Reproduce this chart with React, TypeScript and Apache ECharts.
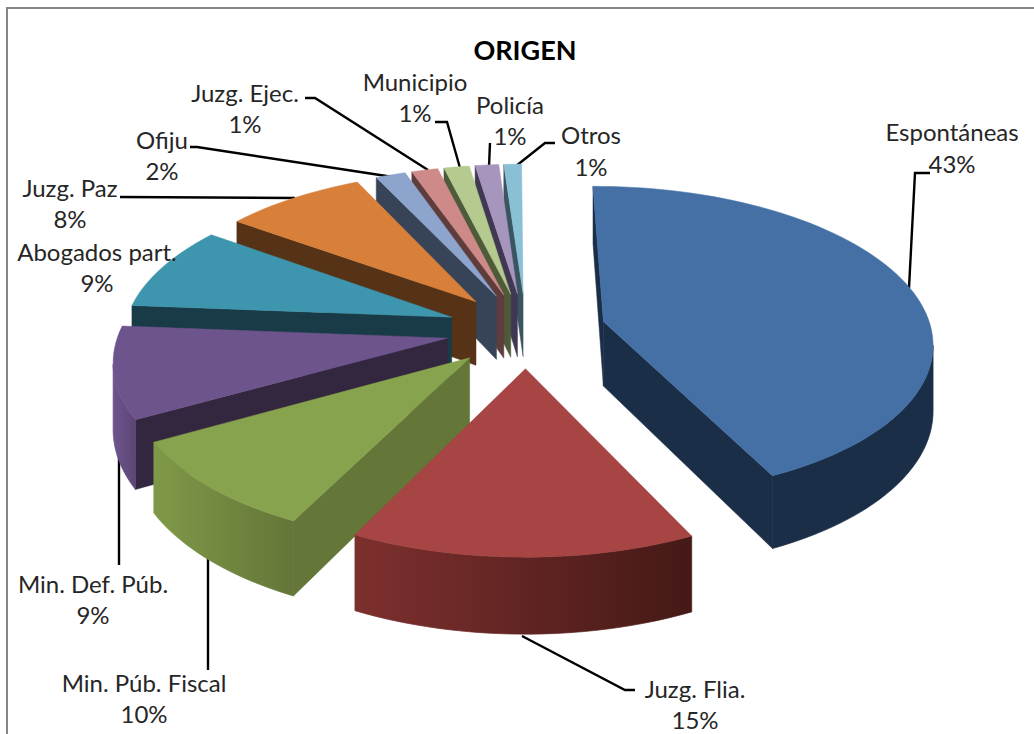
import React, { useEffect, useRef } from "react";
import * as echarts from "echarts";

const categories = ["Espontáneas", "Juzg. Flia.", "Min. Púb. Fiscal", "Min. Def. Púb.", "Abogados part.", "Juzg. Paz", "Ofiju", "Juzg. Ejec.", "Municipio", "Policía", "Otros"];
const values = [42.95, 14.5, 9.5, 9.4, 8.7, 8, 1.7, 1.49, 1.43, 1.33, 1.0];
const topColors = ["#4470a5", "#a64543", "#88a34e", "#6e548c", "#3e95ae", "#d8803a", "#8da5cc", "#cd8a88", "#b5ca8e", "#a695bd", "#8ac0d5"];
const cutColors = ["#1b2e47", "#471a18", "#647638", "#33263f", "#193b47", "#563216", "#374458", "#5e3d3c", "#4e5a3a", "#403853", "#3a5561"];
const rimLight = ["#1b2e47", "#7d302e", "#7f9948", "#6e548c", "#2a6b7e", "#8a5020", "#5a6a88", "#8a5a58", "#7e8f60", "#6e5f85", "#5a8a9a"];
const rimDark = ["#1b2e47", "#451917", "#647638", "#5c4676", "#193b47", "#563216", "#374458", "#5e3d3c", "#4e5a3a", "#403853", "#3a5561"];
const drawOrder = [10, 9, 8, 7, 6, 5, 4, 3, 2, 0, 1];

// [label centre x, name y, percent y]
const labelPlaces = [
  [952, 131, 163], [695, 688, 719], [144, 682, 713], [93, 583, 614], [97, 251, 282],
  [70, 187, 218], [162, 139, 170], [245, 92, 123], [415, 81, 112], [510, 104, 135], [591, 134, 166],
];
const leaders = [
  [[930, 173], [915, 173], [909, 288]],
  [[635, 690], [625, 690], [522, 636]],
  [[208, 670], [208, 558]],
  [[119, 565], [119, 437]],
  [[120, 197], [295, 198]],
  [[190, 147], [197, 147], [393, 177]],
  [[305, 98], [315, 98], [428, 170]],
  [[435, 122], [447, 122], [460, 168]],
  [[490, 143], [489, 167]],
  [[555, 143], [545, 143], [516, 166]],
];

const CX = 526, CY = 330, K = 0.47, PERSP = 0.000382, R = 328, EXPLODE = 80, DEPTH = 65;
const ROTATION = -0.001 * 2 * Math.PI;
const FONT = "Lato";

const total = values.reduce((a, b) => a + b, 0);
const starts: number[] = [];
values.reduce((acc, v, i) => { starts[i] = acc; return acc + (v / total) * 2 * Math.PI; }, ROTATION);

function project(wx: number, wy: number, wz: number) {
  const p = 1 / (1 + PERSP * wy);
  return [CX + wx * p, CY - K * wy * p + wz * p];
}

function renderSlice(_: any, api: any) {
  const i = api.value(0);
  const a0 = starts[i];
  const a1 = a0 + (api.value(1) / total) * 2 * Math.PI;
  const mid = (a0 + a1) / 2;
  const ox = EXPLODE * Math.sin(mid), oy = EXPLODE * Math.cos(mid);
  const n = Math.max(2, Math.ceil((a1 - a0) / (Math.PI / 90)));
  const pt = (a: number, r: number, z: number) => project(ox + r * Math.sin(a), oy + r * Math.cos(a), z);
  const angles = Array.from({ length: n + 1 }, (_, j) => a0 + ((a1 - a0) * j) / n);
  const apex = pt(0, 0, 0);
  const topPts = [apex, ...angles.map((a) => pt(a, R, 0))];
  const inner = pt(mid, R * 0.5, 0);
  const children: any[] = [];

  const faceVisible = (a: number) => {
    const o = pt(a, R, 0);
    const ex = o[0] - apex[0], ey = o[1] - apex[1];
    const cm = ex * (inner[1] - apex[1]) - ey * (inner[0] - apex[0]);
    const cd = ex * DEPTH;
    return cm * cd < 0;
  };
  [a0, a1].forEach((a) => {
    if (faceVisible(a)) {
      children.push({
        type: "polygon",
        shape: { points: [apex, pt(a, R, 0), pt(a, R, DEPTH), pt(0, 0, DEPTH)] },
        style: { fill: cutColors[i], stroke: cutColors[i], lineWidth: 0.5 },
      });
    }
  });

  const run: number[] = [];
  for (let j = 0; j < n; j++) {
    if (pt(angles[j + 1], R, 0)[0] < pt(angles[j], R, 0)[0]) {
      if (!run.length) run.push(angles[j]);
      run.push(angles[j + 1]);
    }
  }
  if (run.length > 1) {
    const upper = run.map((a) => pt(a, R, 0));
    const lower = run.map((a) => pt(a, R, DEPTH)).reverse();
    const xs = upper.map((q) => q[0]);
    const fill = {
      type: "linear", x: Math.min(...xs), y: 0, x2: Math.max(...xs), y2: 0, global: true,
      colorStops: [{ offset: 0, color: rimLight[i] }, { offset: 1, color: rimDark[i] }],
    };
    children.push({ type: "polygon", shape: { points: [...upper, ...lower] }, style: { fill, stroke: fill, lineWidth: 0.7 } });
  }
  children.push({ type: "polygon", shape: { points: topPts }, style: { fill: topColors[i], stroke: topColors[i], lineWidth: 0.5 } });
  return { type: "group", children };
}

export default function App() {
  const ref = useRef<HTMLDivElement>(null);
  useEffect(() => {
    document.body.style.margin = "0";
    const chart = echarts.init(ref.current!, null, { renderer: "svg" });
    const labelEls: any[] = [];
    categories.forEach((name, i) => {
      const [x, y1, y2] = labelPlaces[i];
      labelEls.push({ type: "text", z: 100, x, y: y1, style: { text: name, font: `24px ${FONT}`, fill: "#262626", align: "center", verticalAlign: "middle" } });
      labelEls.push({ type: "text", z: 100, x, y: y2, style: { text: `${Math.round(values[i])}%`, font: `24px ${FONT}`, fill: "#262626", align: "center", verticalAlign: "middle" } });
    });
    const lineEls = leaders.map((pts) => ({ type: "polyline", shape: { points: pts }, style: { stroke: "#000", lineWidth: 2.4, fill: "none" } }));
    chart.setOption({
      animation: false,
      backgroundColor: "#fff",
      title: {
        text: "ORIGEN", left: 520, top: 31, textAlign: "center",
        textStyle: { fontFamily: FONT, fontWeight: "bold", fontSize: 27, color: "#000" },
      },
      series: [{
        type: "custom",
        coordinateSystem: "none",
        silent: true,
        renderItem: renderSlice,
        data: drawOrder.map((i) => ({ name: categories[i], value: [i, values[i]] })),
      }],
      graphic: [
        { type: "polyline", shape: { points: [[7, 734], [7, 8], [1034, 8]] }, style: { stroke: "#868686", lineWidth: 2, fill: "none" } },
        ...lineEls,
        ...labelEls,
      ],
    });
    return () => chart.dispose();
  }, []);
  return <div ref={ref} style={{ position: "absolute", left: 0, top: 0, width: 1034, height: 734 }} />;
}
